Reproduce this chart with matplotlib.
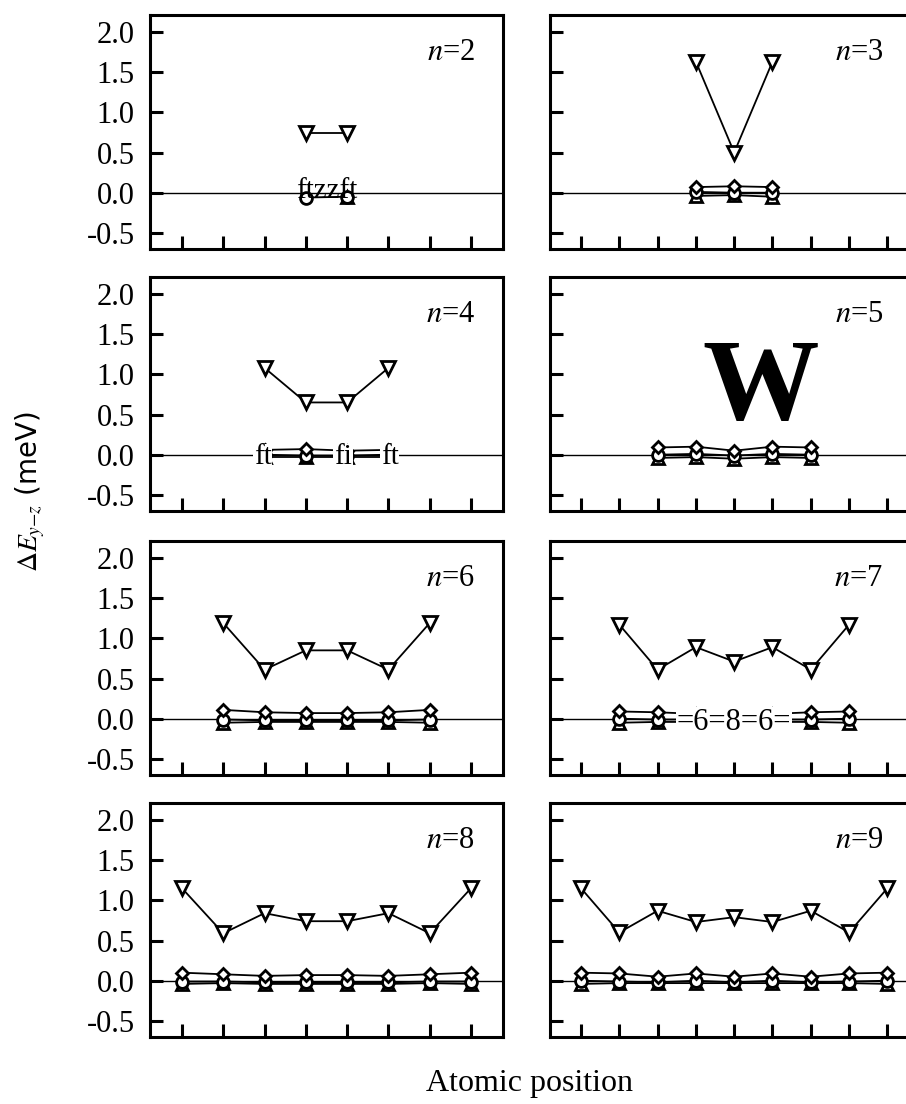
#!/usr/bin/env python3
"""
plot.py
-------
Site-resolved anisotropy energy Delta E_{y-z} along chains of n atoms
(n = 2 ... 9), one panel per chain length, 4 x 2 grid.
Saves out.png (906 x 1104 px).
"""

import matplotlib
matplotlib.use('Agg')       # headless rendering
import matplotlib.pyplot as plt
import numpy as np

# ── Data ───────────────────────────────────────────────────────────────────────
N_VALUES = [2, 3, 4, 5, 6, 7, 8, 9]

POS_N2 = [4, 5]
POS_N3 = [4, 5, 6]
POS_N4 = [3, 4, 5, 6]
POS_N5 = [3, 4, 5, 6, 7]
POS_N6 = [2, 3, 4, 5, 6, 7]
POS_N7 = [2, 3, 4, 5, 6, 7, 8]
POS_N8 = [1, 2, 3, 4, 5, 6, 7, 8]
POS_N9 = [1, 2, 3, 4, 5, 6, 7, 8, 9]

# down triangles (large branch)
DOWN_N2 = [0.74, 0.74]
DOWN_N3 = [1.63, 0.50, 1.63]
DOWN_N4 = [1.08, 0.65, 0.65, 1.08]
DOWN_N5 = None
DOWN_N6 = [1.19, 0.61, 0.85, 0.85, 0.61, 1.19]
DOWN_N7 = [1.17, 0.61, 0.89, 0.71, 0.89, 0.61, 1.17]
DOWN_N8 = [1.15, 0.59, 0.84, 0.74, 0.74, 0.84, 0.59, 1.15]
DOWN_N9 = [1.15, 0.60, 0.87, 0.73, 0.79, 0.73, 0.87, 0.60, 1.15]

# diamonds
DIA_N2 = None
DIA_N3 = [0.07, 0.08, 0.07]
DIA_N4 = [0.06, 0.07, 0.05, 0.06]
DIA_N5 = [0.09, 0.10, 0.05, 0.10, 0.09]
DIA_N6 = [0.11, 0.08, 0.07, 0.07, 0.08, 0.11]
DIA_N7 = [0.09, 0.08, 0.06, 0.05, 0.06, 0.08, 0.09]
DIA_N8 = [0.10, 0.08, 0.06, 0.07, 0.07, 0.06, 0.08, 0.10]
DIA_N9 = [0.10, 0.09, 0.05, 0.09, 0.05, 0.09, 0.05, 0.09, 0.10]

# circles
CIRC_N2 = [-0.06, -0.05]
CIRC_N3 = [0.01, 0.00, 0.00]
CIRC_N4 = [0.00, -0.01, -0.01, 0.00]
CIRC_N5 = [0.00, 0.01, -0.01, 0.01, 0.00]
CIRC_N6 = [-0.01, -0.02, -0.02, -0.02, -0.02, -0.01]
CIRC_N7 = [0.00, -0.01, -0.01, -0.02, -0.01, -0.01, 0.00]
CIRC_N8 = [-0.01, -0.01, -0.02, -0.02, -0.02, -0.02, -0.01, -0.01]
CIRC_N9 = [0.00, -0.01, -0.02, 0.00, -0.02, 0.00, -0.02, -0.01, 0.00]

# up triangles
UP_N2 = [np.nan, -0.05]
UP_N3 = [-0.04, -0.03, -0.05]
UP_N4 = [-0.03, -0.03, -0.03, -0.03]
UP_N5 = [-0.04, -0.03, -0.05, -0.03, -0.04]
UP_N6 = [-0.05, -0.04, -0.04, -0.04, -0.04, -0.05]
UP_N7 = [-0.05, -0.04, -0.04, -0.04, -0.04, -0.04, -0.05]
UP_N8 = [-0.04, -0.03, -0.04, -0.04, -0.04, -0.04, -0.03, -0.04]
UP_N9 = [-0.04, -0.03, -0.03, -0.03, -0.03, -0.03, -0.03, -0.03, -0.04]

Y_TICKS = [-0.5, 0.0, 0.5, 1.0, 1.5, 2.0]
Y_TICK_LABELS = ['-0.5', '0.0', '0.5', '1.0', '1.5', '2.0']

# ── Style ──────────────────────────────────────────────────────────────────────
SERIF = 'Liberation Serif'
plt.rcParams['mathtext.fontset'] = 'stix'
LW_FRAME = 2.2


def draw_panel(ax, pos, down, dia, circ, up, n, right_col):
    ax.axhline(0.0, color='black', lw=1.0, zorder=1)
    for vals, marker, ms in [(up, '^', 9), (circ, 'o', 8.5),
                             (dia, 'D', 6.3), (down, 'v', 9.5)]:
        if vals is None:
            continue
        ax.plot(pos, vals, color='black', lw=1.3, marker=marker, ms=ms,
                mfc='white', mec='black', mew=2.0, zorder=3)

    if right_col:
        ax.set_xlim(0.19, 9.8)
        ax.set_xticks(np.arange(1, 10))
    else:
        ax.set_xlim(0.225, 8.775)
        ax.set_xticks(np.arange(1, 9))
    ax.set_ylim(-0.7, 2.21)
    ax.set_yticks(Y_TICKS)
    if right_col:
        ax.set_yticklabels([])
    else:
        ax.set_yticklabels(Y_TICK_LABELS, fontfamily=SERIF, fontsize=22)

    ax.tick_params(axis='x', direction='in', length=9.5, width=2.2,
                   labelbottom=False, top=False)
    ax.tick_params(axis='y', direction='in', length=9, width=2.2,
                   right=False, pad=11)
    for sp in ax.spines.values():
        sp.set_linewidth(LW_FRAME)

    ax.text(0.905 if right_col else 0.92, 0.84, r'$n$=%d' % n,
            transform=ax.transAxes, ha='right', va='center',
            fontsize=22, fontfamily=SERIF)


def main():
    fig = plt.figure(figsize=(9.06, 11.04), dpi=100)
    W, H = 906.0, 1104.0

    tops = [15, 277, 541, 803]
    height = 234
    left_x, left_w = 150, 353
    right_x, right_w = 550, 368

    panels = [
        (POS_N2, DOWN_N2, DIA_N2, CIRC_N2, UP_N2),
        (POS_N3, DOWN_N3, DIA_N3, CIRC_N3, UP_N3),
        (POS_N4, DOWN_N4, DIA_N4, CIRC_N4, UP_N4),
        (POS_N5, DOWN_N5, DIA_N5, CIRC_N5, UP_N5),
        (POS_N6, DOWN_N6, DIA_N6, CIRC_N6, UP_N6),
        (POS_N7, DOWN_N7, DIA_N7, CIRC_N7, UP_N7),
        (POS_N8, DOWN_N8, DIA_N8, CIRC_N8, UP_N8),
        (POS_N9, DOWN_N9, DIA_N9, CIRC_N9, UP_N9),
    ]

    axes = {}
    for i, (n, data) in enumerate(zip(N_VALUES, panels)):
        row, col = divmod(i, 2)
        x0, w = (right_x, right_w) if col else (left_x, left_w)
        ax = fig.add_axes([x0 / W, 1 - (tops[row] + height) / H,
                           w / W, height / H])
        draw_panel(ax, *data, n=n, right_col=bool(col))
        axes[n] = ax

    # scan artefacts that sit on top of the markers in the original
    axes[2].text(4.5, -0.06, 'ftzzft', ha='center', va='baseline',
                 fontsize=21, fontfamily=SERIF, zorder=5)
    box = dict(facecolor='white', edgecolor='none', pad=0.5)
    for xx, s in [(2.95, 'ft'), (4.9, 'fi'), (6.03, 'ft')]:
        axes[4].text(xx, -0.12, s, ha='center', va='baseline', fontsize=21,
                     fontfamily=SERIF, zorder=5, bbox=box)
    axes[5].text(5.69, 0.44, 'W', ha='center', va='baseline', fontsize=84,
                 fontweight='bold', fontfamily=SERIF, zorder=5)
    axes[7].text(5.0, -0.14, '=6=8=6=', ha='center', va='baseline',
                 fontsize=22, fontfamily=SERIF, zorder=5, bbox=box)

    fig.text(30 / W, 1 - 492 / H, r'$\Delta E_{y\mathrm{-}z}$ (meV)',
             rotation=90, ha='center', va='center', fontsize=20,
             fontfamily='DejaVu Sans')
    fig.text(530 / W, 1 - 1083 / H, 'Atomic position', ha='center',
             va='center', fontsize=23, fontfamily=SERIF)

    fig.savefig('out.png', dpi=100)
    plt.close(fig)


if __name__ == '__main__':
    main()
